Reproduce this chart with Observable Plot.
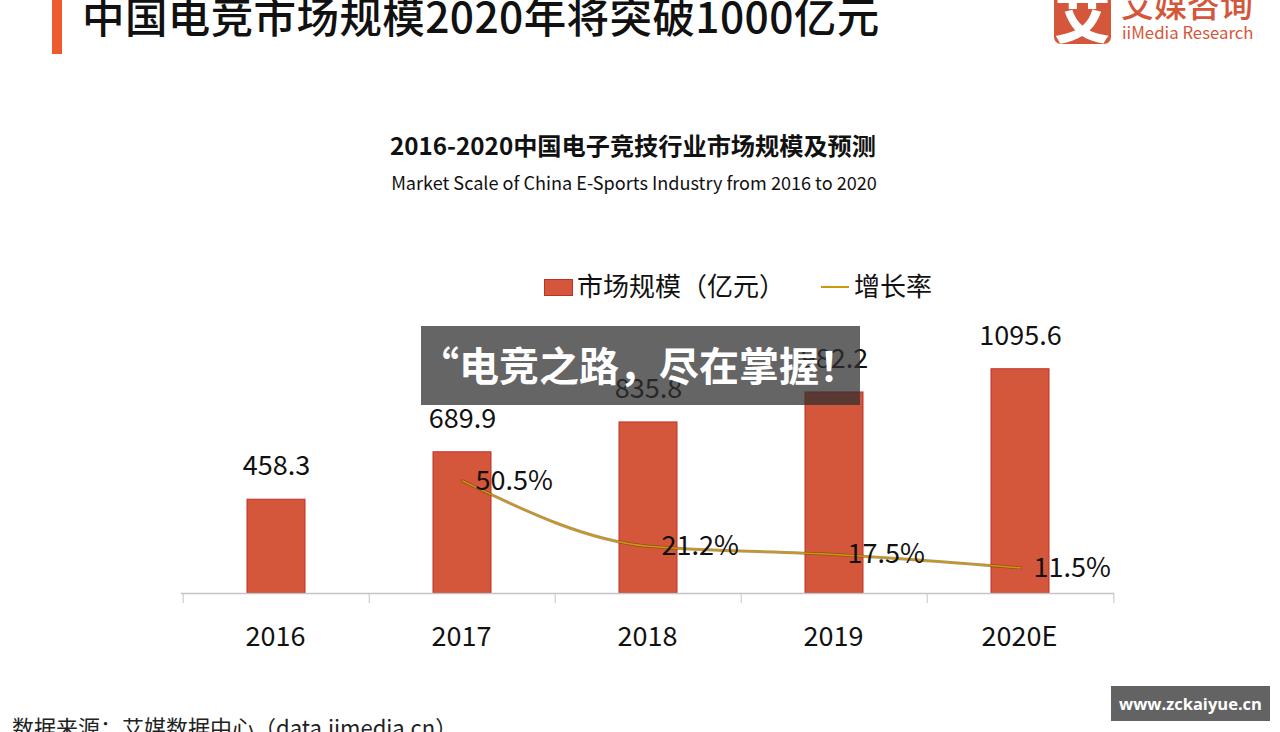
<!DOCTYPE html>
<html>
<head>
<meta charset="utf-8">
<script src="https://cdn.jsdelivr.net/npm/d3@7"></script>
<script src="https://cdn.jsdelivr.net/npm/@observablehq/plot@0.6"></script>
<style>
  html, body { margin: 0; padding: 0; background: #fff; }
  body { width: 1280px; height: 732px; overflow: hidden; position: relative; font-family: "Noto Sans CJK SC", "Noto Sans", sans-serif; }
  .abs { position: absolute; white-space: nowrap; }
  #page-title { left: 82px; top: -10px; font-size: 42.5px; line-height: 50px; color: #111; letter-spacing: 0.4px; font-weight: 500; }
  #title-bar { left: 52px; top: 0; width: 10px; height: 54px; background: #ec5a2e; }
  #logo-box { left: 1054px; top: -14px; width: 57px; height: 58px; background: #d4573b; border-radius: 7px; color: #fff; font-weight: 900; font-size: 56px; line-height: 56px; text-align: center; overflow: hidden; }
  #logo-cn { left: 1121px; top: -17px; font-size: 33px; line-height: 40px; color: #d4573b; font-weight: 500; }
  #logo-en { left: 1122px; top: 20px; font-size: 16.8px; line-height: 24px; color: #d4573b; }
  #chart-title { left: 0; width: 1266px; text-align: center; top: 129px; font-size: 24.2px; line-height: 32px; font-weight: 700; color: #111; }
  #chart-sub { left: 0; width: 1268px; text-align: center; top: 170px; font-size: 18.1px; line-height: 24px; color: #111; }
  #legend .sw { position: absolute; left: 544px; top: 279px; width: 27px; height: 15px; background: #d4573b; border: 1px solid #c0302a; }
  #legend .ln { position: absolute; left: 821px; top: 286px; width: 28px; height: 2px; background: #c99a0c; }
  .leg-t { font-size: 26px; line-height: 30px; color: #111; top: 270px; }
  #plot-bars, #plot-line { position: absolute; left: 0; top: 250px; }
  #overlay { left: 421px; top: 326px; width: 439px; height: 79px; background: rgba(47,47,47,0.74); z-index: 5; }
  #overlay span { position: absolute; left: -2px; top: 13px; font-size: 40px; line-height: 50px; font-weight: 700; color: #fff; }
  #caption { left: 12px; top: 711px; font-size: 22px; line-height: 30px; color: #222; }
  #watermark { left: 1111px; top: 686px; width: 159px; height: 35px; background: #636363; color: #fff; font-weight: 700; font-size: 16.5px; line-height: 35px; text-align: center; z-index: 5; font-family: "Open Sans", "Noto Sans", sans-serif; }
</style>
</head>
<body>
<div id="title-bar" class="abs"></div>
<div id="page-title" class="abs">中国电竞市场规模2020年将突破1000亿元</div>
<div id="logo-box" class="abs">艾</div>
<div id="logo-cn" class="abs">艾媒咨询</div>
<div id="logo-en" class="abs">iiMedia Research</div>
<div id="chart-title" class="abs">2016-2020中国电子竞技行业市场规模及预测</div>
<div id="chart-sub" class="abs">Market Scale of China E-Sports Industry from 2016 to 2020</div>
<div id="legend">
  <div class="sw"></div>
  <div class="abs leg-t" style="left:577px">市场规模（亿元）</div>
  <div class="ln"></div>
  <div class="abs leg-t" style="left:854px">增长率</div>
</div>
<div id="plot-bars"></div>
<div id="plot-line"></div>
<div id="overlay" class="abs"><span>“电竞之路，尽在掌握！</span></div>
<div id="caption" class="abs">数据来源：艾媒数据中心（data.iimedia.cn）</div>
<div id="watermark" class="abs">www.zckaiyue.cn</div>
<script>
// ---- data ----
const years = ["2016", "2017", "2018", "2019", "2020E"];
const marketScale = [458.3, 689.9, 835.8, 982.2, 1095.6];
const rateYears = ["2017", "2018", "2019", "2020E"];
const growthRate = [50.5, 21.2, 17.5, 11.5];

const barData = years.map((y, i) => ({year: y, value: marketScale[i]}));
const rateData = rateYears.map((y, i) => ({year: y, rate: growthRate[i]}));

// ---- layout ----
const W = 1280, H = 420;
const mL = 181, mR = 166, mT = 36, mB = 77;
const pIn = 0.69, pOut = pIn / 2;
const step = (W - mL - mR) / years.length;
const font = "Noto Sans CJK SC, Noto Sans, sans-serif";

const xScale = {type: "band", domain: years, paddingInner: pIn, paddingOuter: pOut, align: 0.5};

const bars = Plot.plot({
  width: W, height: H,
  marginLeft: mL, marginRight: mR, marginTop: mT, marginBottom: mB,
  style: {fontFamily: font, background: "transparent", overflow: "visible"},
  x: xScale,
  y: {domain: [0, 1500], axis: null},
  marks: [
    Plot.barY(barData, {x: "year", y: "value", fill: "#d4573b", stroke: "#c0302a", strokeWidth: 1}),
    Plot.text(barData, {x: "year", y: "value", text: d => d.value.toFixed(1), dy: -33, lineAnchor: "middle", fontSize: 27, fill: "#111"}),
    Plot.ruleY([0], {stroke: "#c4c4c4", strokeWidth: 1.5}),
    Plot.ruleX(years, {x: d => d, dx: -step / 2, y1: 0, y2: 0, insetBottom: -10, stroke: "#c4c4c4"}),
    Plot.ruleX(years.slice(-1), {x: d => d, dx: step / 2, y1: 0, y2: 0, insetBottom: -10, stroke: "#c4c4c4"}),
    Plot.axisX({tickSize: 0, tickPadding: 33, fontSize: 27, fill: "#111", label: null, dx: -1})
  ]
});
document.getElementById("plot-bars").appendChild(bars);

const line = Plot.plot({
  width: W, height: H,
  marginLeft: mL, marginRight: mR, marginTop: mT, marginBottom: mB,
  style: {fontFamily: font, background: "transparent", overflow: "visible"},
  x: {...xScale, axis: null},
  y: {domain: [0, 137.7], axis: null},
  marks: [
    Plot.line(rateData, {x: "year", y: "rate", curve: "monotone-x", stroke: "#6a3e0c", strokeWidth: 3, strokeOpacity: 0.55}),
    Plot.line(rateData, {x: "year", y: "rate", curve: "monotone-x", stroke: "#c99a0c", strokeWidth: 1.5}),
    Plot.text(rateData, {x: "year", y: "rate", text: d => d.rate.toFixed(1) + "%", dx: 13, textAnchor: "start", lineAnchor: "middle", fontSize: 27, fill: "#111"})
  ]
});
document.getElementById("plot-line").appendChild(line);
</script>
</body>
</html>
